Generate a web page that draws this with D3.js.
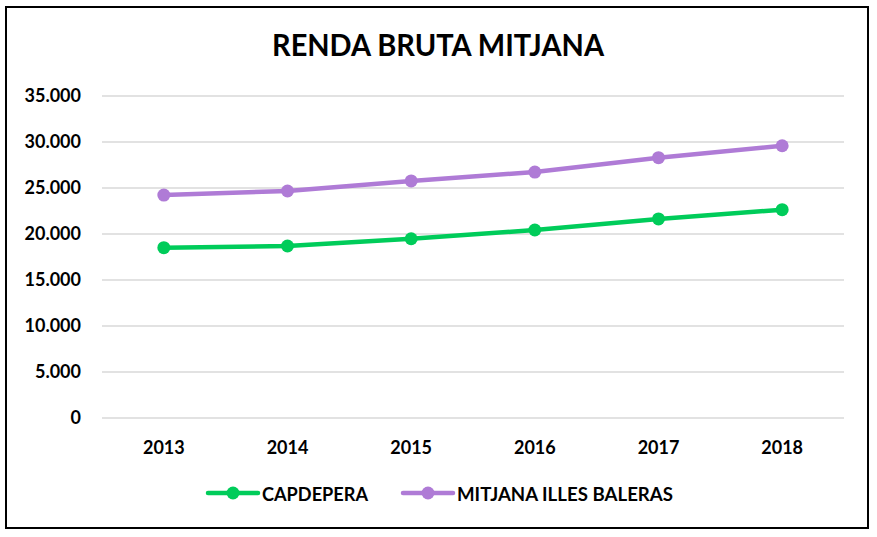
<!DOCTYPE html>
<html>
<head>
<meta charset="utf-8">
<script src="https://cdn.jsdelivr.net/npm/d3@7"></script>
<style>
  html, body { margin: 0; padding: 0; background: #fff; }
  svg { display: block; }
  text { font-family: Lato, "Open Sans", sans-serif; font-weight: 700; fill: #000; }
</style>
</head>
<body>
<svg id="chart" width="877" height="537"></svg>
<script>
const years = ["2013", "2014", "2015", "2016", "2017", "2018"];
const capdepera = [18460, 18640, 19430, 20380, 21580, 22590];
const mitjanaIllesBalears = [24180, 24620, 25710, 26680, 28240, 29540];
const seriesNames = ["CAPDEPERA", "MITJANA ILLES BALERAS"];
const seriesColors = ["#00CC5A", "#AF7BD6"];
const yTicks = [0, 5000, 10000, 15000, 20000, 25000, 30000, 35000];
const title = "RENDA BRUTA MITJANA";

const svg = d3.select("#chart");
const W = 877, H = 537;

svg.append("rect").attr("x", 0).attr("y", 0).attr("width", W).attr("height", H).attr("fill", "#fff");
svg.append("rect").attr("x", 6).attr("y", 7).attr("width", 862).attr("height", 521)
  .attr("fill", "#fff").attr("stroke", "#000").attr("stroke-width", 2);

const x = d3.scaleBand().domain(years).range([102, 844]);
const y = d3.scaleLinear().domain([0, 35000]).range([417.5, 95.5]);

const fmt = v => v === 0 ? "0" : d3.format(",")(v).replace(/,/g, ".");

// title
svg.append("text").attr("x", 438).attr("y", 56).attr("text-anchor", "middle")
  .attr("font-size", 30.5).attr("textLength", 332).attr("lengthAdjust", "spacingAndGlyphs")
  .text(title);

// gridlines + y labels
const yAxis = d3.axisLeft(y).tickValues(yTicks).tickSize(-(844 - 102)).tickFormat(fmt).tickPadding(21);
const gy = svg.append("g").attr("transform", "translate(102,0)").call(yAxis);
gy.select(".domain").remove();
gy.selectAll(".tick line").attr("stroke", "#D9D9D9").attr("stroke-width", 1.5);
gy.selectAll(".tick text").attr("font-size", 18).attr("fill", "#000")
  .attr("font-family", "Lato, sans-serif").attr("font-weight", 700).attr("dy", "0.36em");

// x axis labels
const xAxis = d3.axisBottom(x).tickSize(0).tickPadding(0);
const gx = svg.append("g").attr("transform", "translate(0,417.5)").call(xAxis);
gx.select(".domain").remove();
gx.selectAll(".tick text").attr("font-size", 18).attr("fill", "#000")
  .attr("font-family", "Lato, sans-serif").attr("font-weight", 700)
  .attr("dy", null).attr("y", 36.5);

// lines
const data = [capdepera, mitjanaIllesBalears];
const line = d3.line().x((d, i) => x(years[i]) + x.bandwidth() / 2).y(d => y(d));
data.forEach((vals, si) => {
  svg.append("path").attr("d", line(vals)).attr("fill", "none")
    .attr("stroke", seriesColors[si]).attr("stroke-width", 4.5).attr("stroke-linejoin", "round").attr("stroke-linecap", "round");
  svg.selectAll(null).data(vals).enter().append("circle")
    .attr("cx", (d, i) => x(years[i]) + x.bandwidth() / 2)
    .attr("cy", d => y(d)).attr("r", 6.5).attr("fill", seriesColors[si]);
});

// legend
const legendItems = [{x0: 208, tx: 262, w: 106}, {x0: 403, tx: 457, w: 216}];
legendItems.forEach((it, i) => {
  const g = svg.append("g");
  g.append("line").attr("x1", it.x0).attr("x2", it.x0 + 50).attr("y1", 493).attr("y2", 493)
    .attr("stroke", seriesColors[i]).attr("stroke-width", 4.5).attr("stroke-linecap", "round");
  g.append("circle").attr("cx", it.x0 + 25).attr("cy", 493).attr("r", 6.5).attr("fill", seriesColors[i]);
  g.append("text").attr("x", it.tx).attr("y", 501).attr("font-size", 19.5)
    .attr("textLength", it.w).attr("lengthAdjust", "spacingAndGlyphs").text(seriesNames[i]);
});
</script>
</body>
</html>
